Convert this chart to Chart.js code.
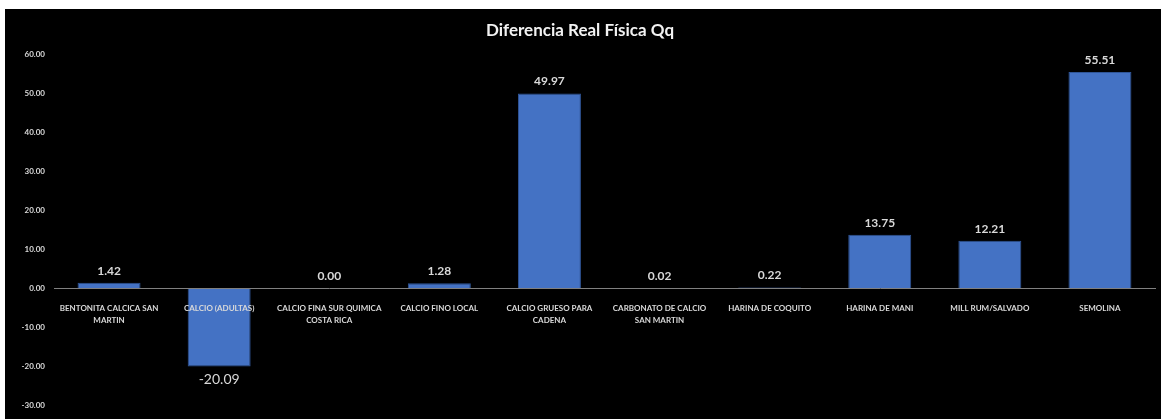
<!DOCTYPE html>
<html>
<head>
<meta charset="utf-8">
<script src="https://cdn.jsdelivr.net/npm/chart.js@4/dist/chart.umd.min.js"></script>
<style>
  body { margin: 0; background: #fff; }
  #wrap { position: absolute; left: 5px; top: 9px; width: 1156px; height: 410px; background: #000; }
</style>
</head>
<body>
<div id="wrap"><canvas id="myChart"></canvas></div>
<script>
// productos y diferencia real fisica (Qq)
const productos = [
    ["BENTONITA CALCICA SAN", "MARTIN"],
    "CALCIO (ADULTAS)",
    ["CALCIO FINA SUR QUIMICA", "COSTA RICA"],
    "CALCIO FINO LOCAL",
    ["CALCIO GRUESO PARA", "CADENA"],
    ["CARBONATO DE CALCIO", "SAN MARTIN"],
    "HARINA DE COQUITO",
    "HARINA DE MANI",
    "MILL RUM/SALVADO",
    "SEMOLINA"
];
const diferencia = [1.42, -20.09, 0.00, 1.28, 49.97, 0.02, 0.22, 13.75, 12.21, 55.51];
const yMin = -30;
const yMax = 60;
const yStep = 10;

// etiquetas de valor encima / debajo de cada barra
const valueLabels = {
    id: "valueLabels",
    afterDatasetsDraw(chart) {
        let ctx = chart.ctx;
        let meta = chart.getDatasetMeta(0);
        ctx.save();
        ctx.fillStyle = "#d9d9d9";
        ctx.textAlign = "center";
        ctx.textBaseline = "middle";
        meta.data.forEach((bar, i) => {
            let v = chart.data.datasets[0].data[i];
            if (v < 0) {
                ctx.font = "14px Lato";
                ctx.fillText(v.toFixed(2), bar.x, bar.y + 13);
            } else {
                ctx.font = "bold 12px Lato";
                ctx.fillText(v.toFixed(2), bar.x, bar.y - 12);
            }
        });
        ctx.restore();
    }
};

let ctx = document.getElementById("myChart").getContext("2d");

let chart = new Chart(ctx, {
    type: "bar",
    data: {
        labels: productos,
        datasets: [{
            label: "Diferencia Real Física Qq",
            data: diferencia,
            backgroundColor: "#4472c4",
            borderColor: "#2f5597",
            borderWidth: 1,
            categoryPercentage: 1,
            barPercentage: 0.572
        }]
    },
    options: {
        responsive: true,
        maintainAspectRatio: false,
        animation: false,
        layout: { padding: { left: 0, right: 6, top: 0, bottom: 13 } },
        plugins: {
            legend: { display: false },
            tooltip: { enabled: false },
            title: {
                display: true,
                text: "Diferencia Real Física Qq",
                color: "#f2f2f2",
                font: { family: "Lato", size: 17, weight: "bold" },
                padding: { top: 11, bottom: 14 }
            }
        },
        scales: {
            x: {
                position: { y: 0 },
                grid: { display: false },
                border: { display: true, color: "#808080", width: 1, z: 1 },
                ticks: {
                    z: 1,
                    color: "#d9d9d9",
                    font: { family: "Lato", size: 8, weight: "bold", lineHeight: 1.5 },
                    maxRotation: 0,
                    autoSkip: false,
                    padding: 6
                }
            },
            y: {
                min: yMin,
                max: yMax,
                grid: { display: false, drawTicks: false },
                border: { display: false },
                ticks: {
                    stepSize: yStep,
                    color: "#d9d9d9",
                    font: { family: "Lato", size: 8, weight: "bold" },
                    padding: 9,
                    callback: v => v.toFixed(2)
                },
                afterFit: scale => { scale.width = 49; }
            }
        }
    },
    plugins: [valueLabels]
});
</script>
</body>
</html>
